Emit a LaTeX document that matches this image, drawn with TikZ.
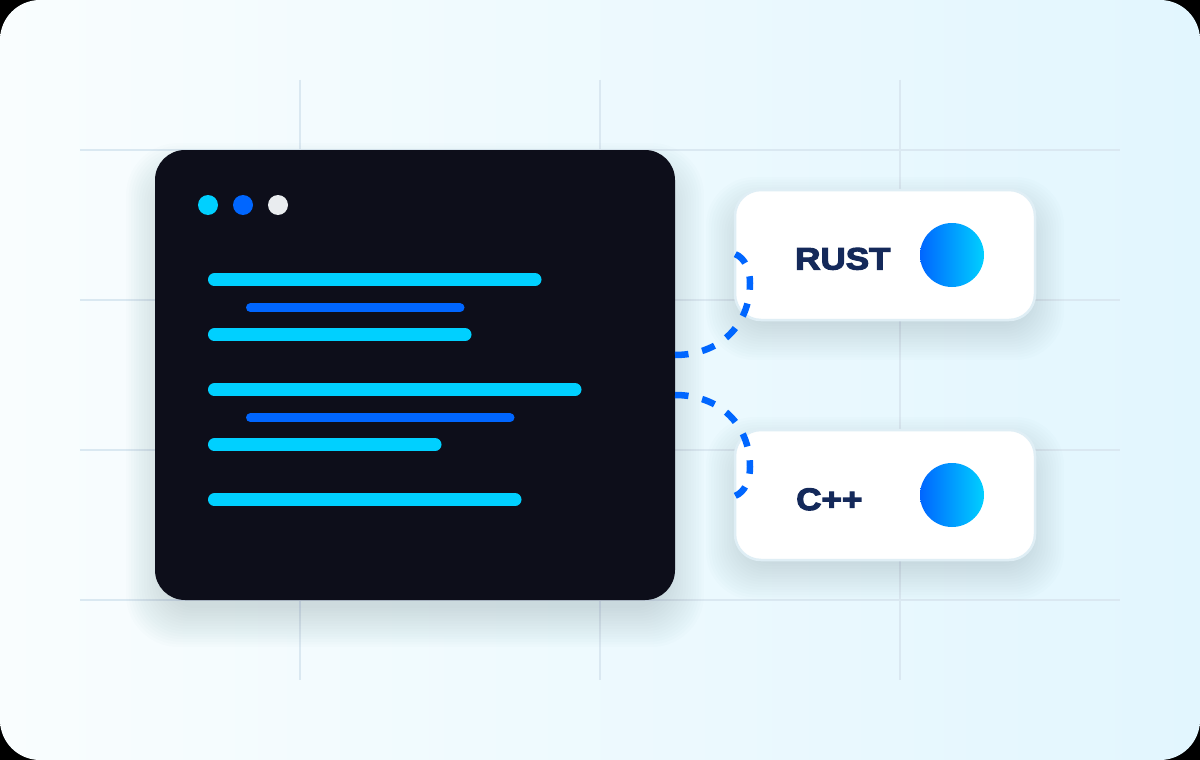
\documentclass[tikz,border=0pt]{standalone}
\usepackage{fontspec}
\usetikzlibrary{shapes, arrows, positioning}
\newfontfamily\cardfont[FakeBold=3.6,FakeStretch=1.13]{Liberation Sans Bold}
\definecolor{inkblack}{HTML}{0D0E1A}
\definecolor{cyanbar}{HTML}{00D0FF}
\definecolor{bluebar}{HTML}{0066FF}
\definecolor{dotgrey}{HTML}{E9ECEF}
\definecolor{gridblue}{HTML}{DAE8F1}
\definecolor{cardedge}{HTML}{DFEEF5}
\definecolor{navytext}{HTML}{14295A}
\definecolor{shadowblue}{HTML}{3A6A85}
\definecolor{bgleft}{HTML}{F9FDFE}
\definecolor{bgright}{HTML}{E2F6FE}

\begin{document}
\begin{tikzpicture}[x=1pt, y=-1pt]
            \tikzstyle{gridline}=[gridblue, line width=1.6pt]
            \tikzstyle{softshadow}=[shadowblue, opacity=0.011]
            \tikzstyle{windowbox}=[fill=inkblack, rounded corners=30pt, minimum width=520pt, minimum height=450pt, inner sep=0pt, outer sep=0pt]
            \tikzstyle{cardbox}=[fill=white, draw=cardedge, line width=2.5pt, rounded corners=26pt, minimum width=300pt, minimum height=130pt, inner sep=0pt, outer sep=0pt]
            \tikzstyle{dot}=[circle, minimum size=20pt, inner sep=0pt, outer sep=0pt]
            \tikzstyle{badge}=[circle, minimum size=64pt, inner sep=0pt, outer sep=0pt, left color=bluebar, right color=cyanbar]
            \tikzstyle{cardlabel}=[anchor=base west, inner sep=0pt, navytext, font=\cardfont\fontsize{31}{31}\selectfont]
            \tikzstyle{longbar}=[cyanbar, line width=13pt, line cap=round]
            \tikzstyle{shortbar}=[bluebar, line width=9pt, line cap=round]
            \tikzstyle{wire}=[bluebar, line width=6.5pt, dash pattern=on 13.5pt off 14pt]

            \useasboundingbox (0,0) rectangle (1200,760);
            \fill[black] (0,0) rectangle (1200,760);
            \shade[left color=bgleft, right color=bgright, rounded corners=40pt] (0,0) rectangle (1200,760);

            \foreach \y in {150,300,450,600}
                \draw[gridline] (80,\y) -- (1120,\y);
            \foreach \x in {300,600,900}
                \draw[gridline] (\x,80) -- (\x,680);

            \foreach \g in {0,...,15}{
                \pgfmathsetmacro\s{\g*2.6-10}
                \fill[softshadow, rounded corners=30pt+\g*1.5pt] (155-\s,172-\s) rectangle (675+\s,618+\s);
                \fill[softshadow, rounded corners=26pt+\g*1.5pt] (735-\s,206-\s) rectangle (1035+\s,331+\s);
                \fill[softshadow, rounded corners=26pt+\g*1.5pt] (735-\s,446-\s) rectangle (1035+\s,571+\s);
            }

            \node[windowbox] (codewin) at (415,375) {};
            \node[dot, fill=cyanbar] (dotone) at (208,205) {};
            \node[dot, fill=bluebar, right=15pt of dotone] (dottwo) {};
            \node[dot, fill=dotgrey, right=15pt of dottwo] (dotthree) {};

            \draw[longbar] (214.5,279.7) -- (535,279.7);
            \draw[shortbar] (250.5,307.7) -- (460,307.7);
            \draw[longbar] (214.5,334.7) -- (465,334.7);
            \draw[longbar] (214.5,389.7) -- (575,389.7);
            \draw[shortbar] (250.5,417.7) -- (510,417.7);
            \draw[longbar] (214.5,444.7) -- (435,444.7);
            \draw[longbar] (214.5,499.7) -- (515,499.7);

            \node[cardbox] (rustcard) at (885,255) {};
            \node[cardbox] (cppcard) at (885,495) {};
            \node[badge] (rustbadge) at (952,255) {};
            \node[badge] (cppbadge) at (952,495) {};
            \node[cardlabel] (rustlabel) at (795,269.5) {RUST};
            \node[cardlabel] (cpplabel) at (796,510) {C++};

            \coordinate (rustend) at (735,254);
            \coordinate (cppend) at (735,496);
            \draw[wire] ([yshift=20pt]codewin.east) .. controls (720,355) and (750,325) .. (750,283) .. controls (750,270) and (745,258) .. (rustend);
            \draw[wire] ([yshift=-20pt]codewin.east) .. controls (720,395) and (750,425) .. (750,467) .. controls (750,480) and (745,492) .. (cppend);
\end{tikzpicture}
\end{document}
